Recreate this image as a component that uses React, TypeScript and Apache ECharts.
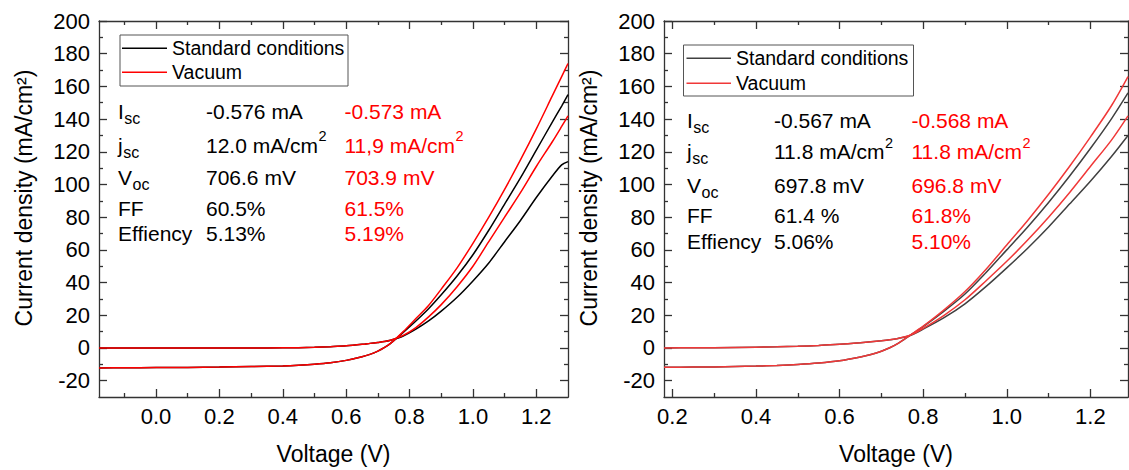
import React, { useEffect, useRef } from "react";
import * as echarts from "echarts";

// ---------- data ----------
const vLeft = [-0.18, -0.1, 0, 0.1, 0.2, 0.3, 0.4, 0.45, 0.5, 0.55, 0.6, 0.65, 0.675, 0.7, 0.72, 0.74, 0.78, 0.82, 0.86, 0.9, 0.95, 1.0, 1.05, 1.1, 1.15, 1.2, 1.25, 1.28, 1.3];
const leftStdLight = [-12.2, -12.1, -12.0, -11.9, -11.7, -11.4, -11.0, -10.6, -10.0, -9.1, -7.6, -5.4, -3.9, -1.9, 0.2, 2.8, 9.5, 16.5, 24, 32.5, 44, 57, 72, 88, 104, 121, 138, 148, 155];
const leftStdDark = [0, 0, 0, 0, 0, 0, 0.1, 0.2, 0.4, 0.8, 1.3, 2.2, 2.8, 3.4, 3.9, 4.7, 7.3, 11.5, 16.5, 22.5, 31, 41, 52, 65, 78, 92, 105, 112, 114];
const leftVacLight = [-12.2, -12.1, -12.0, -11.9, -11.7, -11.4, -11.0, -10.6, -10.0, -9.1, -7.6, -5.4, -3.9, -1.9, 0.2, 2.8, 10, 18, 26, 36, 49, 64, 80, 97, 115, 134, 154, 166, 174];
const leftVacDark = [0, 0, 0, 0, 0, 0, 0.1, 0.2, 0.4, 0.8, 1.3, 2.2, 2.8, 3.4, 3.9, 4.7, 7.7, 12.5, 19, 26.5, 37.5, 50, 65, 80, 95, 111, 126, 135.5, 142];

const vRight = [0.18, 0.25, 0.3, 0.4, 0.45, 0.5, 0.55, 0.6, 0.65, 0.675, 0.7, 0.72, 0.74, 0.77, 0.8, 0.85, 0.9, 0.95, 1.0, 1.05, 1.1, 1.15, 1.2, 1.25, 1.29];
const rightStdLight = [-11.8, -11.7, -11.6, -11.1, -10.7, -10.1, -9.2, -7.8, -5.5, -4.0, -2.0, 0.1, 2.8, 7.9, 13, 22.5, 33, 46, 60, 74, 89, 105, 122, 140, 156];
const rightStdDark = [0, 0.1, 0.2, 0.5, 0.7, 1.0, 1.5, 2.2, 3.2, 3.8, 4.4, 5.0, 5.8, 7.8, 11.5, 18.5, 27, 37.5, 49, 61, 74, 88, 102, 117, 130];
const rightVacLight = [-11.8, -11.7, -11.6, -11.1, -10.7, -10.1, -9.2, -7.8, -5.5, -4.0, -2.0, 0.1, 2.8, 8.0, 13.3, 23.3, 34.5, 48, 63, 78, 94, 111, 129, 148, 166];
const rightVacDark = [0, 0.1, 0.2, 0.5, 0.7, 1.0, 1.5, 2.2, 3.2, 3.8, 4.4, 5.0, 5.8, 7.9, 12, 20, 29.5, 41, 53, 66, 80, 95, 111, 127, 142];

const xLeftMajor = [0, 0.2, 0.4, 0.6, 0.8, 1.0, 1.2];
const xLeftMinor = [-0.1, 0.1, 0.3, 0.5, 0.7, 0.9, 1.1];
const xRightMajor = [0.2, 0.4, 0.6, 0.8, 1.0, 1.2];
const xRightMinor = [0.3, 0.5, 0.7, 0.9, 1.1];
const yMajor = [-20, 0, 20, 40, 60, 80, 100, 120, 140, 160, 180, 200];
const yMinor = [-10, 10, 30, 50, 70, 90, 110, 130, 150, 170, 190];

const legendNames = ["Standard conditions", "Vacuum"];
const paramLabels = [
  { main: "I", sub: "sc" },
  { main: "j", sub: "sc" },
  { main: "V", sub: "oc" },
  { main: "FF", sub: "" },
  { main: "Effiency", sub: "" },
];
// a trailing "^2" marks a superscript 2
const leftStdParams = ["-0.576 mA", "12.0 mA/cm^2", "706.6 mV", "60.5%", "5.13%"];
const leftVacParams = ["-0.573 mA", "11,9 mA/cm^2", "703.9 mV", "61.5%", "5.19%"];
const rightStdParams = ["-0.567 mA", "11.8 mA/cm^2", "697.8 mV", "61.4 %", "5.06%"];
const rightVacParams = ["-0.568 mA", "11.8 mA/cm^2", "696.8 mV", "61.8%", "5.10%"];

// ---------- layout ----------
const FONT = '"Liberation Sans", Arial, sans-serif';
const AXIS_COLOR = "#333";

const panels = [
  {
    grid: { left: 99, top: 21, width: 469, height: 380 },
    xMin: -0.18, xMax: 1.3, xMajor: xLeftMajor, xMinor: xLeftMinor,
    v: vLeft,
    series: [
      { name: legendNames[0], data: leftStdLight, color: "#000000" },
      { name: legendNames[0], data: leftStdDark, color: "#000000" },
      { name: legendNames[1], data: leftVacLight, color: "#ff0000" },
      { name: legendNames[1], data: leftVacDark, color: "#ff0000" },
    ],
    legend: { x: 120, y: 35, w: 228, h: 51, lineX1: 122, lineX2: 167, textX: 172, y1: 48.3, y2: 72.3 },
    colors: ["#000000", "#ff0000"],
    rows: [111.7, 145, 177, 208, 233.5],
    labelX: 118, col1X: 206, col2X: 344.5,
    std: leftStdParams, vac: leftVacParams,
    yTitleX: 24,
  },
  {
    grid: { left: 664, top: 21, width: 464, height: 380 },
    xMin: 0.18, xMax: 1.29, xMajor: xRightMajor, xMinor: xRightMinor,
    v: vRight,
    series: [
      { name: legendNames[0], data: rightStdLight, color: "#404040" },
      { name: legendNames[0], data: rightStdDark, color: "#404040" },
      { name: legendNames[1], data: rightVacLight, color: "#f03838" },
      { name: legendNames[1], data: rightVacDark, color: "#f03838" },
    ],
    legend: { x: 683.5, y: 45, w: 230, h: 51, lineX1: 686.5, lineX2: 731, textX: 736, y1: 58.3, y2: 83.3 },
    colors: ["#404040", "#f03838"],
    rows: [120, 151.7, 185, 215, 241],
    labelX: 687, col1X: 774, col2X: 911.5,
    std: rightStdParams, vac: rightVacParams,
    yTitleX: 589,
  },
];

let measureCtx: CanvasRenderingContext2D | null = null;
function textWidth(text: string, size: number) {
  if (!measureCtx) measureCtx = document.createElement("canvas").getContext("2d");
  if (!measureCtx) return text.length * size * 0.55;
  measureCtx.font = `${size}px ${FONT}`;
  return measureCtx.measureText(text).width;
}

function valueTexts(x: number, y: number, raw: string, color: string): any[] {
  const hasSup = raw.endsWith("^2");
  const base = hasSup ? raw.slice(0, -2) : raw;
  const out: any[] = [
    {
      type: "text", x, y, z: 11,
      style: { text: base, fill: color, fontSize: 21, fontFamily: FONT, align: "left", verticalAlign: "middle" },
    },
  ];
  if (hasSup) {
    out.push({
      type: "text", x: x + textWidth(base, 21) + 0.5, y: y - 9, z: 11,
      style: { text: "2", fill: color, fontSize: 14.5, fontFamily: FONT, align: "left", verticalAlign: "middle" },
    });
  }
  return out;
}

function buildOption() {
  const grids: any[] = [];
  const xAxes: any[] = [];
  const yAxes: any[] = [];
  const series: any[] = [];
  const graphics: any[] = [];

  panels.forEach((p, g) => {
    grids.push({ ...p.grid, containLabel: false });
    const lineStyle = { color: AXIS_COLOR, width: 1.3 };
    const xBase = { type: "value", gridIndex: g, min: p.xMin, max: p.xMax, splitLine: { show: false } };
    xAxes.push({
      ...xBase,
      position: "bottom",
      axisLine: { show: true, onZero: false, lineStyle },
      axisTick: { show: true, inside: true, length: 8, customValues: p.xMajor, lineStyle },
      axisLabel: {
        show: true, customValues: p.xMajor, margin: 8, color: "#000", fontSize: 22, fontFamily: FONT,
        formatter: (v: number) => v.toFixed(1),
      },
      name: "Voltage (V)", nameLocation: "middle", nameGap: 45,
      nameTextStyle: { color: "#000", fontSize: 23, fontFamily: FONT },
    });
    xAxes.push({
      ...xBase, position: "bottom",
      axisLine: { show: false, onZero: false },
      axisTick: { show: true, inside: true, length: 4, customValues: p.xMinor, lineStyle },
      axisLabel: { show: false },
    });
    xAxes.push({
      ...xBase, position: "top",
      axisLine: { show: true, onZero: false, lineStyle },
      axisTick: { show: true, inside: true, length: 8, customValues: p.xMajor, lineStyle },
      axisLabel: { show: false },
    });
    xAxes.push({
      ...xBase, position: "top",
      axisLine: { show: false, onZero: false },
      axisTick: { show: true, inside: true, length: 4, customValues: p.xMinor, lineStyle },
      axisLabel: { show: false },
    });

    const yBase = { type: "value", gridIndex: g, min: -30, max: 200, splitLine: { show: false } };
    yAxes.push({
      ...yBase, position: "left",
      axisLine: { show: true, onZero: false, lineStyle },
      axisTick: { show: true, inside: true, length: 8, customValues: yMajor, lineStyle },
      axisLabel: { show: true, customValues: yMajor, margin: 9, color: "#000", fontSize: 22, fontFamily: FONT },
    });
    yAxes.push({
      ...yBase, position: "left",
      axisLine: { show: false, onZero: false },
      axisTick: { show: true, inside: true, length: 4, customValues: yMinor, lineStyle },
      axisLabel: { show: false },
    });
    yAxes.push({
      ...yBase, position: "right",
      axisLine: { show: true, onZero: false, lineStyle },
      axisTick: { show: true, inside: true, length: 8, customValues: yMajor, lineStyle },
      axisLabel: { show: false },
    });
    yAxes.push({
      ...yBase, position: "right",
      axisLine: { show: false, onZero: false },
      axisTick: { show: true, inside: true, length: 4, customValues: yMinor, lineStyle },
      axisLabel: { show: false },
    });

    p.series.forEach((s) => {
      series.push({
        type: "line",
        name: s.name,
        xAxisIndex: g * 4,
        yAxisIndex: g * 4,
        data: p.v.map((v, i) => [v, s.data[i]]),
        showSymbol: false,
        symbol: "none",
        smooth: 0.3,
        lineStyle: { color: s.color, width: 1.5 },
        itemStyle: { color: s.color },
        z: 3,
      });
    });

    graphics.push({
      type: "text",
      x: p.yTitleX,
      y: 198,
      rotation: Math.PI / 2,
      style: {
        text: "Current density (mA/cm²)",
        fill: "#000", fontSize: 23, fontFamily: FONT, align: "center", verticalAlign: "middle",
      },
    });

    const L = p.legend;
    graphics.push({
      type: "rect",
      shape: { x: L.x, y: L.y, width: L.w, height: L.h },
      style: { fill: "#fff", stroke: "#555", lineWidth: 1 },
      z: 10,
    });
    [L.y1, L.y2].forEach((yy, i) => {
      graphics.push({
        type: "line",
        shape: { x1: L.lineX1, y1: yy, x2: L.lineX2, y2: yy },
        style: { stroke: p.colors[i], lineWidth: 1.6 },
        z: 11,
      });
      graphics.push({
        type: "text",
        x: L.textX, y: yy,
        style: { text: legendNames[i], fill: "#000", fontSize: 19.5, fontFamily: FONT, align: "left", verticalAlign: "middle" },
        z: 11,
      });
    });

    paramLabels.forEach((lab, i) => {
      const yy = p.rows[i];
      graphics.push({
        type: "text", x: p.labelX, y: yy,
        style: { text: lab.main, fill: "#000", fontSize: 21, fontFamily: FONT, align: "left", verticalAlign: "middle" },
        z: 11,
      });
      if (lab.sub) {
        const offs = textWidth(lab.main, 21) + 0.5;
        graphics.push({
          type: "text", x: p.labelX + offs, y: yy + 7,
          style: { text: lab.sub, fill: "#000", fontSize: 16, fontFamily: FONT, align: "left", verticalAlign: "middle" },
          z: 11,
        });
      }
      valueTexts(p.col1X, yy, p.std[i], "#000").forEach((e) => graphics.push(e));
      valueTexts(p.col2X, yy, p.vac[i], "#ff0000").forEach((e) => graphics.push(e));
    });
  });

  return {
    animation: false,
    backgroundColor: "#ffffff",
    grid: grids,
    xAxis: xAxes,
    yAxis: yAxes,
    series,
    graphic: { elements: graphics },
  };
}

export default function App() {
  const ref = useRef<HTMLDivElement>(null);
  useEffect(() => {
    document.body.style.margin = "0";
    if (!ref.current) return;
    const chart = echarts.init(ref.current, undefined, { renderer: "svg" });
    chart.setOption(buildOption() as any);
    return () => chart.dispose();
  }, []);
  return <div ref={ref} style={{ position: "absolute", left: 0, top: 0, width: 1129, height: 470 }} />;
}
